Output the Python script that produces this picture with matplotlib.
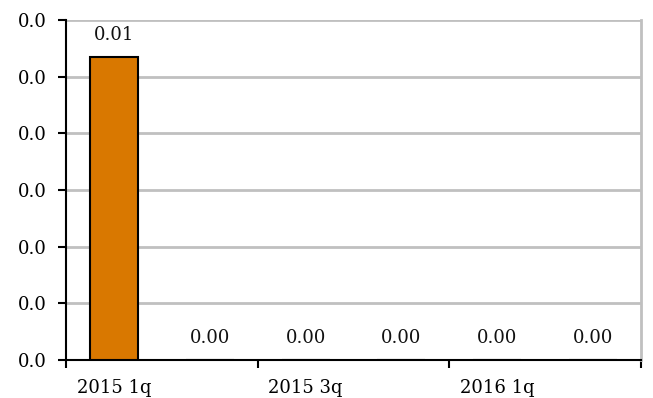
import numpy as np
import matplotlib
matplotlib.use("Agg")
import matplotlib.pyplot as plt
from matplotlib.ticker import FormatStrFormatter, MultipleLocator

# quarterly series
quarters = ["2015 1q", "2015 2q", "2015 3q", "2015 4q", "2016 1q", "2016 2q"]
values = [0.00535, 0.0, 0.0, 0.0, 0.0, 0.0]
value_labels = ["0.01", "0.00", "0.00", "0.00", "0.00", "0.00"]

plt.rcParams["font.family"] = "DejaVu Serif"
fs = 13

fig = plt.figure(figsize=(6.53, 3.98), dpi=100)
ax = fig.add_axes([66 / 653, 38 / 398, 575 / 653, 340 / 398])

x = np.arange(len(quarters))
ax.bar(x, values, width=0.5, color="#D97800", edgecolor="black", linewidth=1.5, zorder=3)

for xi, v, lab in zip(x, values, value_labels):
    ax.annotate(lab, (xi, v), xytext=(0, 16), textcoords="offset points",
                ha="center", va="center", fontsize=fs, color="#111111")

ax.set_xlim(-0.5, len(quarters) - 0.5)
ax.set_ylim(0, 0.006)
ax.yaxis.set_major_locator(MultipleLocator(0.001))
ax.yaxis.set_major_formatter(FormatStrFormatter("%.1f"))
ax.grid(axis="y", color="#C0C0C0", linewidth=2, zorder=0)

# tick marks on every other category boundary, labels on every other category
ax.set_xticks(np.arange(-0.5, len(quarters), 2))
ax.set_xticklabels([])
ax.set_xticks(x[::2], minor=True)
ax.set_xticklabels(quarters[::2], minor=True)
ax.tick_params(axis="x", which="major", direction="out", length=6, width=1.5)
ax.tick_params(axis="x", which="minor", length=0, pad=14, labelsize=fs)
ax.tick_params(axis="y", direction="out", length=6, width=1.5, labelsize=fs, pad=8)

ax.spines["left"].set_linewidth(1.5)
ax.spines["bottom"].set_linewidth(1.5)
ax.spines["top"].set_visible(False)
ax.spines["right"].set_color("#C0C0C0")
ax.spines["right"].set_linewidth(2)

fig.savefig("out.png", dpi=100)
plt.close(fig)
